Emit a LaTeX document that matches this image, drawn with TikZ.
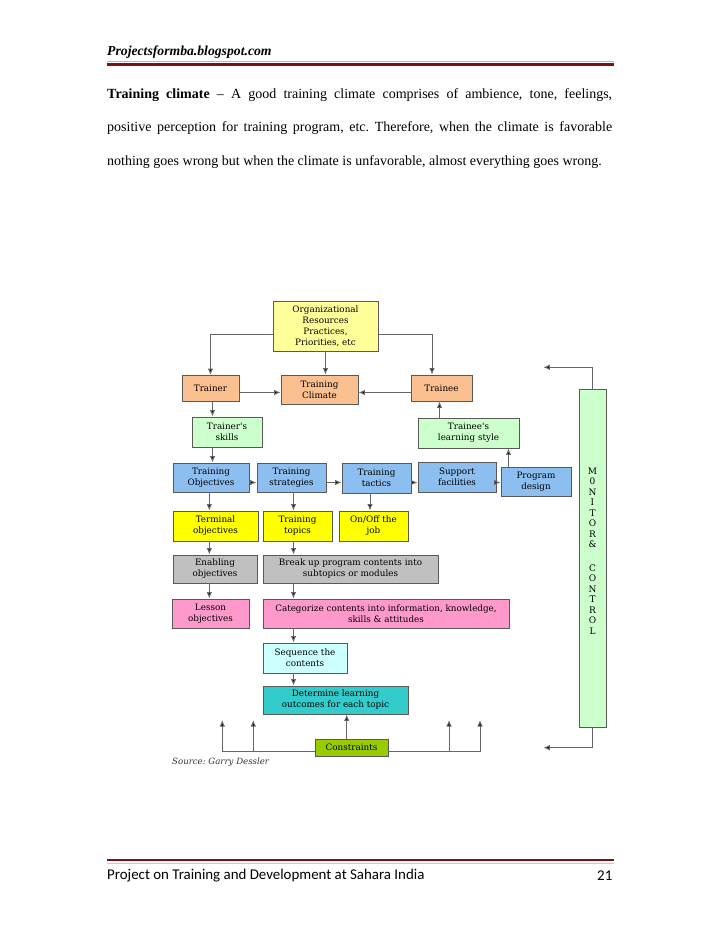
\documentclass[tikz,border=0pt]{standalone}
\usepackage{fontspec}
\setmainfont{Liberation Serif}
\newfontfamily\boxfont{DejaVu Serif}
\newfontfamily\footfont{Carlito}
\usepackage{tikz}
\usetikzlibrary{arrows.meta}
\usepackage{xcolor}
\definecolor{pageRed}{RGB}{122,17,20}
\definecolor{orgYellow}{RGB}{255,255,153}
\definecolor{peach}{RGB}{250,192,144}
\definecolor{paleGreen}{RGB}{204,255,204}
\definecolor{skyBlue}{RGB}{141,190,240}
\definecolor{brightYellow}{RGB}{255,255,0}
\definecolor{midGray}{RGB}{192,192,192}
\definecolor{rosePink}{RGB}{255,153,204}
\definecolor{paleCyan}{RGB}{204,255,255}
\definecolor{tealBox}{RGB}{51,204,204}
\definecolor{limeBox}{RGB}{153,204,0}

\begin{document}
\frenchspacing
\begin{tikzpicture}[x=1pt, y=-1pt,
  box/.style={draw=black!65, line width=0.9pt, align=center, inner sep=1pt,
    font=\boxfont\fontsize{8.8}{11}\selectfont, text=black},
  wh/.style 2 args={minimum width=#1, minimum height=#2},
  arr/.style={-{Latex[length=6.5pt,width=5.5pt,fill=black]}, draw=black!60, line width=1pt},
  plain/.style={inner sep=0, anchor=west}
]
  \fill[white] (0,0) rectangle (728,943);
  \useasboundingbox (0,0) rectangle (728,943);
  % Page header
  \node[plain, font=\bfseries\itshape\fontsize{13.7}{15}\selectfont] (site) at (107,51.7) {Projectsformba.blogspot.com};
  \draw[pageRed!35, line width=0.6pt] (107,60.8) -- (614,60.8);
  \draw[pageRed, line width=2.6pt] (107,64.3) -- (614,64.3);
  % Paragraph
  \node[plain, font=\fontsize{14}{16}\selectfont] (para1) at (107,95)
    {\makebox[505pt][s]{\textbf{Training climate} \textendash\ A good training climate comprises of ambience, tone, feelings,}};
  \node[plain, font=\fontsize{14}{16}\selectfont] (para2) at (107,128.3)
    {\makebox[505pt][s]{positive perception for training program, etc. Therefore, when the climate is favorable}};
  \node[plain, font=\fontsize{14}{16}\selectfont] (para3) at (107,161.7)
    {nothing goes wrong but when the climate is unfavorable, almost everything goes wrong.};

  % Boxes
  \node[box, fill=orgYellow, wh={105}{50}] (org) at (325.5,326) {Organizational\\Resources\\Practices,\\Priorities, etc};
  \node[box, fill=peach, wh={57}{26}] (trainer) at (210.5,388.5) {Trainer};
  \node[box, fill=peach, wh={77}{29}] (climate) at (319.5,389.5) {Training\\Climate};
  \node[box, fill=peach, wh={61}{26}] (trainee) at (441.5,388) {Trainee};
  \node[box, fill=paleGreen, wh={70}{30}] (tskills) at (227,432) {Trainer's\\skills};
  \node[box, fill=paleGreen, wh={101}{30}] (lstyle) at (468.5,433) {Trainee's\\learning style};
  \node[box, fill=skyBlue, wh={76}{29}] (objectives) at (211,477.5) {Training\\Objectives};
  \node[box, fill=skyBlue, wh={69}{29}] (strategies) at (291.5,477.5) {Training\\strategies};
  \node[box, fill=skyBlue, wh={69}{30}] (tactics) at (376.5,478) {Training\\tactics};
  \node[box, fill=skyBlue, wh={78}{30}] (support) at (457,477) {Support\\facilities};
  \node[box, fill=skyBlue, wh={70}{29}] (design) at (536,481.5) {Program\\design};
  \node[box, fill=brightYellow, wh={85}{30}] (terminal) at (215.5,526) {Terminal\\objectives};
  \node[box, fill=brightYellow, wh={69}{30}] (topics) at (297.5,526) {Training\\topics};
  \node[box, fill=brightYellow, wh={69}{30}] (onoff) at (373.5,526) {On/Off the\\job};
  \node[box, fill=midGray, wh={84}{28}] (enabling) at (215,569) {Enabling\\objectives};
  \node[box, fill=midGray, wh={175}{28}] (breakup) at (350.5,569) {Break up program contents into\\subtopics or modules};
  \node[box, fill=rosePink, wh={77}{29}] (lesson) at (210.5,613.5) {Lesson\\objectives};
  \node[box, fill=rosePink, wh={246}{29}] (categorize) at (386,613.5) {Categorize contents into information, knowledge,\\skills \& attitudes};
  \node[box, fill=paleCyan, wh={84}{30}] (sequence) at (305,658) {Sequence the\\contents};
  \node[box, fill=tealBox, wh={145}{28}] (determine) at (335.5,700) {Determine learning\\outcomes for each topic};
  \node[box, fill=limeBox, wh={73}{17}] (constraints) at (351.5,747.5) {Constraints};
  \node[box, fill=paleGreen, wh={27}{338}] (monitor) at (592.5,558) {};
  \node[box, draw=none, font=\boxfont\fontsize{9}{10.5}\selectfont] (montext) at (592.5,551)
    {M\\0\\N\\I\\T\\O\\R\\\&\\[13pt]C\\O\\N\\T\\R\\O\\L};
  \node[plain, font=\boxfont\itshape\fontsize{8.6}{10}\selectfont, text=black!80] (source) at (172,761.7) {Source: Garry Dessler};

  % Column and row guides
  \coordinate (colA) at (209.3,0);
  \coordinate (colB) at (293.5,0);
  \coordinate (colC) at (346.7,0);
  \coordinate (colD) at (370,0);
  \coordinate (colE) at (432,0);
  \coordinate (colF) at (439.5,0);
  \coordinate (colG) at (508.5,0);
  \coordinate (colT) at (212.5,0);
  \coordinate (rowT) at (0,392.5);
  \coordinate (rowB) at (0,482.5);
  \coordinate (mtop) at (543.3,367.3);
  \coordinate (mbot) at (543.3,747.7);
  \coordinate (c1) at (222.3,720);
  \coordinate (c2) at (253.3,720);
  \coordinate (c3) at (449,720);
  \coordinate (c4) at (480,720);

  % Connectors
  \draw[arr] ([yshift=-8.7pt]org.west) -| (trainer.north);
  \draw[arr] ([yshift=-8.7pt]org.east) -| (trainee.north -| colE);
  \draw[arr] (org.south) -- (org.south |- climate.north);
  \draw[arr] (trainer.east |- rowT) -- (climate.west |- rowT);
  \draw[arr] (trainee.west |- rowT) -- (climate.east |- rowT);
  \draw[arr] (lstyle.north -| colF) -- (trainee.south -| colF);
  \draw[arr] (design.north -| colG) -- (lstyle.south -| colG);
  \foreach \a/\b in {trainer/tskills, tskills/objectives}
    \draw[arr] (\a.south -| colT) -- (\b.north -| colT);
  \foreach \a/\b in {objectives/strategies, strategies/tactics, tactics/support, support/design}
    \draw[arr] (\a.east |- rowB) -- (\b.west |- rowB);
  \foreach \a/\b in {objectives/terminal, terminal/enabling, enabling/lesson}
    \draw[arr] (\a.south -| colA) -- (\b.north -| colA);
  \foreach \a/\b in {strategies/topics, topics/breakup, breakup/categorize, categorize/sequence, sequence/determine}
    \draw[arr] (\a.south -| colB) -- (\b.north -| colB);
  \draw[arr] (tactics.south -| colD) -- (onoff.north -| colD);
  \draw[arr] (constraints.north -| colC) -- (determine.south -| colC);
  \foreach \c in {c1, c2}
    \draw[arr] ([yshift=-3.5pt]constraints.west) -| (\c);
  \foreach \c in {c3, c4}
    \draw[arr] ([yshift=-3.5pt]constraints.east) -| (\c);
  \draw[arr] (monitor.north) |- (mtop);
  \draw[arr] (monitor.south) |- (mbot);

  % Page footer
  \draw[pageRed, line width=2.6pt] (107,860) -- (614,860);
  \draw[pageRed!25, line width=0.6pt] (107,863.5) -- (614,863.5);
  \node[plain, font=\footfont\fontsize{14.9}{16}\selectfont] (foot) at (107,875.5) {Project on Training and Development at Sahara India};
  \node[inner sep=0, anchor=east, font=\footfont\fontsize{14.9}{16}\selectfont] (pageno) at (612.5,875.5) {21};
\end{tikzpicture}
\end{document}
